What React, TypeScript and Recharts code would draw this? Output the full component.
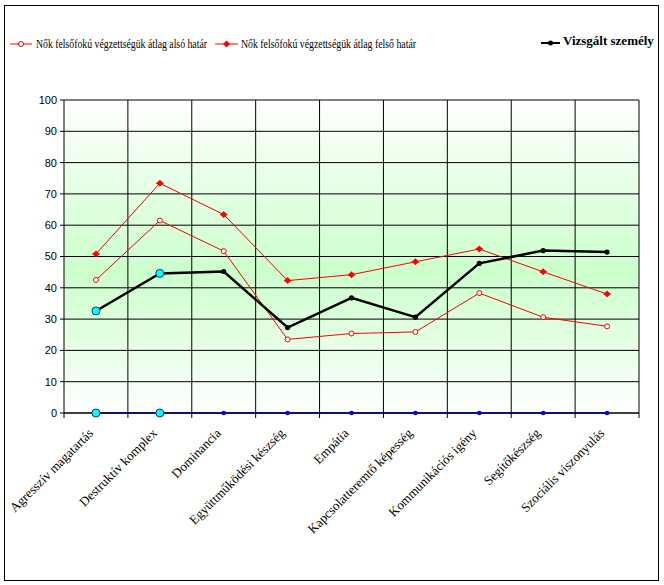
import React from "react";
import {
  CartesianGrid,
  Legend,
  Line,
  LineChart,
  ReferenceLine,
  XAxis,
  YAxis,
} from "recharts";

const categories = [
  "Agresszív magatartás",
  "Destruktív komplex",
  "Dominancia",
  "Együttműködési készség",
  "Empátia",
  "Kapcsolatteremtő képesség",
  "Kommunikációs igény",
  "Segítőkészség",
  "Szociális viszonyulás",
];

const lowerBound = [42.5, 61.5, 51.7, 23.5, 25.4, 25.9, 38.3, 30.6, 27.7];
const upperBound = [50.8, 73.4, 63.4, 42.3, 44.2, 48.3, 52.4, 45.1, 38.0];
const subject = [32.6, 44.6, 45.2, 27.3, 36.8, 30.6, 47.8, 51.9, 51.4];
const baseline = [0, 0, 0, 0, 0, 0, 0, 0, 0];

const yTicks = [0, 10, 20, 30, 40, 50, 60, 70, 80, 90, 100];

const legendLabels = [
  "Nők felsőfokú végzettségük átlag alsó határ",
  "Nők felsőfokú végzettségük átlag felső határ",
  "Vizsgált személy",
];

// category i sits in the middle of the band [i, i+1]
const boundaries = categories.map((_, i) => i).concat(categories.length);
const xTicks = boundaries.flatMap((b) => (b < categories.length ? [b, b + 0.5] : [b]));

const data = categories.map((name, i) => ({
  x: i + 0.5,
  name,
  lower: lowerBound[i],
  upper: upperBound[i],
  subject: subject[i],
  zero: baseline[i],
}));

const RED = "#ff0000";
const SERIF = '"Liberation Serif", "Times New Roman", serif';
const SANS = '"Liberation Sans", Arial, sans-serif';

function CategoryTick(props: any) {
  const { x, y, payload } = props;
  const v = payload.value as number;
  if (Number.isInteger(v)) {
    return <line x1={x} y1={y - 5} x2={x} y2={y} stroke="#000" strokeWidth={1} />;
  }
  const label = categories[Math.floor(v)];
  const ax = x - 2;
  const ay = y + 16;
  return (
    <text
      x={ax}
      y={ay}
      textAnchor="end"
      transform={`rotate(-45, ${ax}, ${ay})`}
      fontSize={13}
      fontFamily={SERIF}
      fill="#000"
    >
      {label}
    </text>
  );
}

function OpenCircle(props: any) {
  const { cx, cy, index } = props;
  return <circle key={`lo-${index}`} cx={cx} cy={cy} r={2.5} stroke={RED} strokeWidth={1} fill="#fff" />;
}

function Diamond(props: any) {
  const { cx, cy, index } = props;
  const r = 3.5;
  return (
    <g key={`up-${index}`}>
      <polygon points={`${cx},${cy - r} ${cx + r},${cy} ${cx},${cy + r} ${cx - r},${cy}`} fill={RED} />
      <line x1={cx - 3.5} y1={cy} x2={cx + 3.5} y2={cy} stroke={RED} strokeWidth={1.5} />
    </g>
  );
}

function SubjectDot(props: any) {
  const { cx, cy, index } = props;
  if (index < 2) {
    return <circle key={`s-${index}`} cx={cx} cy={cy} r={4} fill="#00ffff" stroke="#00407f" strokeWidth={1} />;
  }
  return <circle key={`s-${index}`} cx={cx} cy={cy} r={2.6} fill="#000" />;
}

function ZeroDot(props: any) {
  const { cx, cy, index } = props;
  if (index < 2) {
    return <circle key={`z-${index}`} cx={cx} cy={cy} r={4} fill="#00ffff" stroke="#00407f" strokeWidth={1} />;
  }
  return <circle key={`z-${index}`} cx={cx} cy={cy} r={2.3} fill="#0000ff" />;
}

function LegendContent() {
  return (
    <svg width={664} height={24} style={{ display: "block" }}>
      <line x1={10} y1={12} x2={32} y2={12} stroke={RED} strokeWidth={1} />
      <circle cx={21} cy={12} r={2.5} stroke={RED} fill="#fff" />
      <text x={36} y={16} fontSize={11.5} fontFamily={SERIF} textLength={171} lengthAdjust="spacingAndGlyphs">
        {legendLabels[0]}
      </text>

      <line x1={215} y1={12} x2={238} y2={12} stroke={RED} strokeWidth={1} />
      <polygon points="226.5,8.5 230,12 226.5,15.5 223,12" fill={RED} />
      <text x={241} y={16} fontSize={11.5} fontFamily={SERIF} textLength={175} lengthAdjust="spacingAndGlyphs">
        {legendLabels[1]}
      </text>

      <line x1={541} y1={11} x2={560} y2={11} stroke="#000" strokeWidth={2} />
      <circle cx={550.5} cy={11} r={2.5} fill="#000" />
      <text x={563} y={13} fontSize={13} fontWeight="bold" fontFamily={SERIF}>
        {legendLabels[2]}
      </text>
    </svg>
  );
}

export default function App() {
  return (
    <div style={{ position: "absolute", left: 0, top: 0, width: 664, height: 585, background: "#fff" }}>
      <div
        style={{
          position: "absolute",
          left: 4,
          top: 5,
          width: 655,
          height: 576,
          border: "1px solid #000",
          boxSizing: "border-box",
        }}
      />
      <div style={{ position: "absolute", left: 0, top: 0 }}>
        <LineChart
          width={664}
          height={585}
          data={data}
          margin={{ top: 100, right: 25, bottom: 72, left: 4 }}
        >
          <defs>
            <linearGradient id="plotBg" x1="0" y1="0" x2="0" y2="1">
              <stop offset="0%" stopColor="#ffffff" />
              <stop offset="55%" stopColor="#ccffcc" />
              <stop offset="100%" stopColor="#ffffff" />
            </linearGradient>
          </defs>
          <CartesianGrid
            vertical={false}
            stroke="#000"
            strokeOpacity={1}
            fill="url(#plotBg)"
            fillOpacity={1}
          />
          {boundaries.slice(1).map((b) => (
            <ReferenceLine key={b} x={b} stroke="#000" strokeWidth={1} ifOverflow="visible" />
          ))}
          <XAxis
            type="number"
            dataKey="x"
            domain={[0, boundaries.length - 1]}
            ticks={xTicks}
            interval={0}
            allowDecimals
            height={100}
            tickSize={5}
            tickMargin={0}
            tickLine={false}
            axisLine={{ stroke: "#000" }}
            tick={<CategoryTick />}
          />
          <YAxis
            type="number"
            domain={[0, 100]}
            ticks={yTicks}
            interval={0}
            width={60}
            tickSize={4}
            tickMargin={3}
            axisLine={{ stroke: "#000" }}
            tickLine={{ stroke: "#000" }}
            tick={{ fontSize: 11, fontFamily: SANS, fill: "#000" }}
          />
          <Legend
            layout="horizontal"
            verticalAlign="middle"
            align="center"
            content={<LegendContent />}
            wrapperStyle={{ position: "absolute", top: 32, left: 0, width: 664, height: 24, margin: 0, padding: 0 }}
          />
          <Line
            dataKey="lower"
            type="linear"
            stroke={RED}
            strokeWidth={1}
            dot={OpenCircle}
            activeDot={false}
            isAnimationActive={false}
          />
          <Line
            dataKey="upper"
            type="linear"
            stroke={RED}
            strokeWidth={1}
            dot={Diamond}
            activeDot={false}
            isAnimationActive={false}
          />
          <Line
            dataKey="subject"
            type="linear"
            stroke="#000"
            strokeWidth={2.5}
            dot={SubjectDot}
            activeDot={false}
            isAnimationActive={false}
          />
          <Line
            dataKey="zero"
            type="linear"
            stroke="#0000ff"
            strokeWidth={1.5}
            dot={ZeroDot}
            activeDot={false}
            isAnimationActive={false}
          />
        </LineChart>
      </div>
    </div>
  );
}
